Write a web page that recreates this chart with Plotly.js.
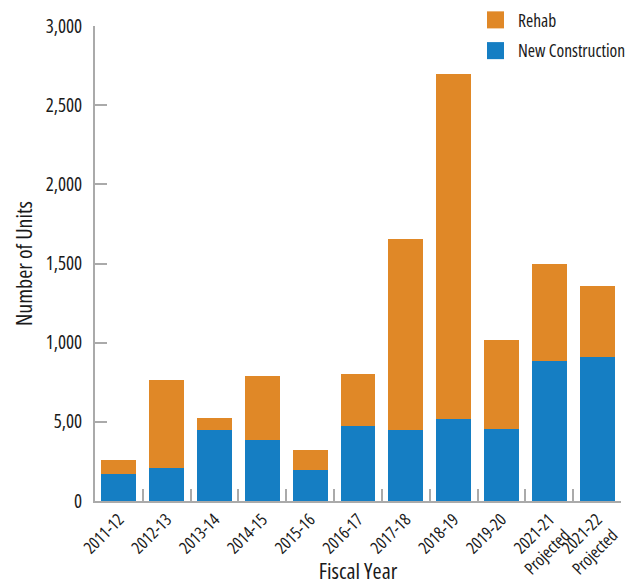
<!DOCTYPE html>
<html>
<head>
<meta charset="utf-8">
<script src="https://cdn.plot.ly/plotly-3.0.1.min.js"></script>
<style>
html,body{margin:0;padding:0;background:#fff;}
#chart{width:640px;height:585px;}
svg text{font-stretch:75% !important;}
</style>
</head>
<body>
<div id="chart"></div>
<script>
var categories = ["2011-12","2012-13","2013-14","2014-15","2015-16","2016-17","2017-18","2018-19","2019-20","2021-21<br>Projected","2021-22<br>Projected"];
var newConstruction = [170, 208, 447, 384, 195, 473, 447, 517, 454, 882, 907];
var rehab = [88, 555, 76, 404, 126, 327, 1210, 2177, 561, 618, 448];
var yTickVals = [0, 500, 1000, 1500, 2000, 2500, 3000];
var yTickText = ["0", "5,00", "1,000", "1,500", "2,000", "2,500", "3,000"];

var FONT = "'Open Sans', 'Roboto Condensed', sans-serif";
var data = [
  {type: "bar", name: "New Construction", legendgroup: "nc", legendrank: 2, x: categories, y: newConstruction, marker: {color: "#157ec3"}},
  {type: "bar", name: "Rehab", legendgroup: "rh", legendrank: 1, x: categories, y: rehab, marker: {color: "#e08827"}}
];
var layout = {
  width: 640, height: 585,
  margin: {l: 95, r: 19, t: 26, b: 84, autoexpand: false},
  barmode: "stack",
  bargap: 0.27,
  paper_bgcolor: "#fff", plot_bgcolor: "#fff",
  font: {family: FONT, color: "#1a1a1a", size: 15},
  showlegend: true,
  legend: {xref: "container", yref: "container", x: 473/640, y: 1 - 2/585, xanchor: "left", yanchor: "top",
           traceorder: "grouped", tracegroupgap: 5,
           font: {size: 17.5, family: FONT, color: "#1a1a1a"}, itemwidth: 35, bgcolor: "rgba(0,0,0,0)"},
  xaxis: {
    type: "category", tickson: "boundaries", ticks: "inside", ticklen: 12, tickwidth: 2,
    tickcolor: "#aaa", showline: true, linecolor: "#aaa", linewidth: 2,
    tickangle: -45, tickfont: {size: 17, family: FONT}, showgrid: false,
    title: {text: "Fiscal Year", font: {size: 22, family: FONT}, standoff: 4}
  },
  yaxis: {
    range: [0, 3000], tickmode: "array", tickvals: yTickVals, ticktext: yTickText,
    ticks: "inside", ticklen: 12, tickwidth: 2, tickcolor: "#aaa",
    showline: true, linecolor: "#aaa", linewidth: 2, showgrid: false, zeroline: false,
    tickfont: {size: 19, family: FONT}, ticklabelstandoff: 7,
    title: {text: "Number of Units", font: {size: 22, family: FONT}, standoff: 7}
  }
};
function enlargeLegendSymbols() {
  document.querySelectorAll('#chart .legend .legendpoints path').forEach(function (p) {
    var t = p.getAttribute('transform') || '';
    if (t.indexOf('scale') < 0) p.setAttribute('transform', (t + ' scale(1.42)').trim());
  });
}
var gd = document.getElementById("chart");
Plotly.newPlot(gd, data, layout, {displayModeBar: false}).then(function () {
  enlargeLegendSymbols();
  gd.on('plotly_afterplot', enlargeLegendSymbols);
});
</script>
</body>
</html>
